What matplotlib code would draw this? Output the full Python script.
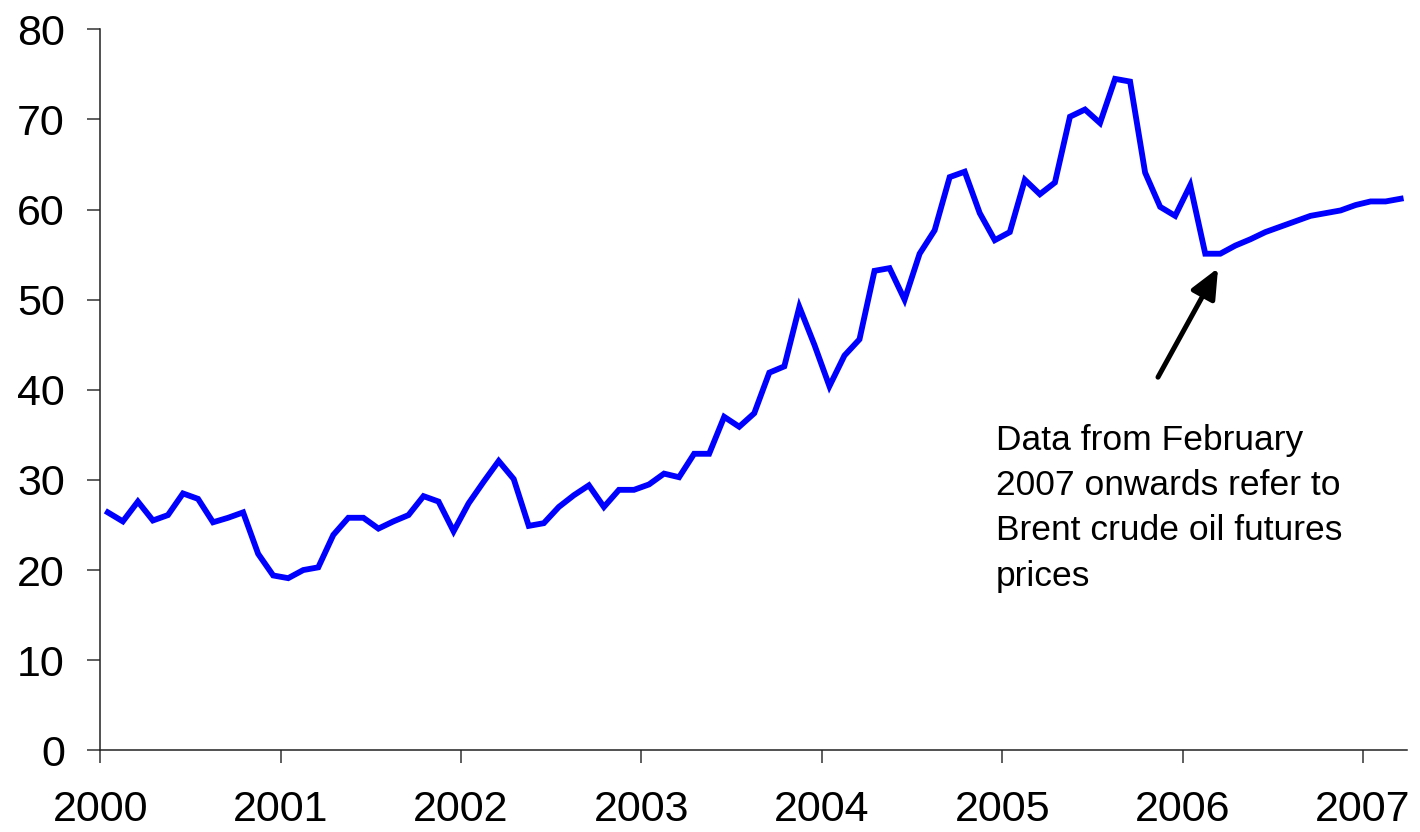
import matplotlib
matplotlib.use("Agg")
import matplotlib.pyplot as plt
import numpy as np

plt.rcParams['font.family'] = ['Liberation Sans', 'DejaVu Sans']

# Monthly prices, Jan 2000 .. Mar 2007 (USD per barrel)
prices = [
    26.4, 25.4, 27.6, 25.5, 26.1, 28.5, 27.9, 25.3, 25.8, 26.4, 21.8, 19.4,   # 2000
    19.1, 20.0, 20.3, 23.9, 25.8, 25.8, 24.6, 25.4, 26.1, 28.2, 27.6, 24.3,   # 2001
    27.4, 29.8, 32.1, 30.1, 24.9, 25.2, 27.0, 28.3, 29.4, 27.0, 28.9, 28.9,   # 2002
    29.5, 30.7, 30.3, 32.9, 32.9, 37.0, 35.9, 37.4, 41.9, 42.6, 49.2, 45.0,   # 2003
    40.4, 43.8, 45.6, 53.2, 53.5, 50.0, 55.1, 57.7, 63.6, 64.2, 59.6, 56.6,   # 2004
    57.5, 63.3, 61.7, 63.0, 70.3, 71.1, 69.6, 74.5, 74.2, 64.1, 60.3, 59.3,   # 2005
    62.7, 55.1, 55.1, 56.0, 56.7, 57.5, 58.1, 58.7, 59.3, 59.6, 59.9, 60.5,   # 2006
    60.9, 60.9, 61.2,                                                         # 2007
]
years = [2000, 2001, 2002, 2003, 2004, 2005, 2006, 2007]
y_ticks = [0, 10, 20, 30, 40, 50, 60, 70, 80]
note = "Data from February\n2007 onwards refer to\nBrent crude oil futures\nprices"

x = 2000 + (np.arange(len(prices)) + 0.5) / 12.0

fig = plt.figure(figsize=(14.2, 8.32), dpi=100)
ax = fig.add_axes([100.3 / 1420, 1 - 750.3 / 832, (1407 - 100.3) / 1420, (750.3 - 29.3) / 832])

ax.plot(x, prices, color='#0000FF', lw=4.2, solid_joinstyle='miter', clip_on=False)

ax.set_xlim(2000, 2000 + (1407 - 100.3) / 180.4)
ax.set_ylim(0, 80)
ax.set_xticks(years)
ax.set_xticklabels([str(y) for y in years])
ax.set_yticks(y_ticks)
ax.set_yticklabels([str(v) for v in y_ticks])

for s in ['top', 'right']:
    ax.spines[s].set_visible(False)
for s in ['left', 'bottom']:
    ax.spines[s].set_color('#222222')
    ax.spines[s].set_linewidth(1.1)

ax.tick_params(axis='y', direction='out', length=9.5, width=1.1, color='#333333',
               labelsize=31, pad=16)
ax.tick_params(axis='x', direction='out', length=9.5, width=1.1, color='#333333',
               labelsize=31, pad=19)

ax.annotate('', xy=(2006.196, 53.5), xytext=(2005.863, 41.4),
            arrowprops=dict(arrowstyle='-|>,head_length=1.8,head_width=0.8',
                            color='black', lw=3.6, shrinkA=0, shrinkB=0,
                            capstyle='round'))

ax.text(2004.965, 36.2, note, fontsize=25.5, va='top', ha='left',
        linespacing=1.47, color='black')

fig.savefig('out.png', dpi=100)
